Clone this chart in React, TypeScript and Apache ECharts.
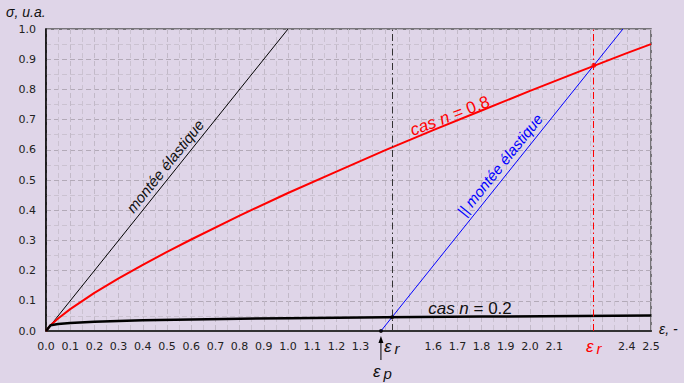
import React, { useEffect, useRef } from 'react';
import * as echarts from 'echarts';

// axis ranges & ticks
const xMin = 0;
const xMax = 2.5;
const xStep = 0.1;
const yMin = 0;
const yMax = 1;
const yStep = 0.1;
const hiddenXTicks = [1.4, 1.5, 2.2, 2.3];

// elastic loading line (black, thin)
const elasticX = [0, 1];
const elasticY = [0, 1];

// hardening curve n = 0.8 (red)
const n08X = [0, 0.02, 0.05, 0.1, 0.2, 0.3, 0.4, 0.5, 0.6, 0.8, 1.0, 1.2, 1.4, 1.6, 1.8, 2.0, 2.2, 2.4, 2.5];
const n08Y = [0, 0.02, 0.0415, 0.0723, 0.126, 0.174, 0.219, 0.262, 0.303, 0.382, 0.457, 0.528, 0.598, 0.665, 0.73, 0.795, 0.858, 0.92, 0.95];

// hardening curve n = 0.2 (black, thick)
const n02X = [0, 0.019, 0.05, 0.1, 0.2, 0.4, 0.6, 0.8, 1.0, 1.4, 1.8, 2.2, 2.5];
const n02Y = [0, 0.019, 0.0233, 0.0268, 0.0308, 0.0354, 0.0384, 0.0406, 0.0425, 0.0455, 0.0478, 0.0498, 0.051];

// parallel elastic line (blue)
const parX = [1.384, 2.384];
const parY = [0, 1];

// key points
const epsP = 1.384;
const epsR02 = 1.43;
const sigR02 = 0.0457;
const epsR08 = 2.264;
const sigR08 = 0.88;

const BG = '#dfd5e8';
const FONT = '"Liberation Sans", Arial, sans-serif';
const TICKFONT = '"DejaVu Sans", sans-serif';
const NB = '\u00a0';

const zip = (xs: number[], ys: number[]) => xs.map((x, i) => [x, ys[i]]);

export default function App() {
  const ref = useRef<HTMLDivElement>(null);

  useEffect(() => {
    if (!ref.current) return;
    const chart = echarts.init(ref.current, undefined, { renderer: 'svg' });

    const option: any = {
      animation: false,
      backgroundColor: BG,
      grid: {
        left: 46,
        top: 29,
        width: 605,
        height: 302,
        show: true,
        borderColor: '#555',
        borderWidth: 1.5,
        backgroundColor: 'transparent',
      },
      xAxis: {
        type: 'value',
        min: xMin,
        max: xMax,
        interval: xStep,
        axisLine: { show: true, onZero: false, lineStyle: { color: '#333', width: 2 } },
        axisTick: { show: false },
        minorTick: { show: false, splitNumber: 2 },
        splitLine: { show: true, lineStyle: { color: '#c2b9c8', type: [5, 3], width: 1 } },
        minorSplitLine: { show: true, lineStyle: { color: '#cbc2d1', type: [5, 3], width: 1 } },
        axisLabel: {
          color: '#222',
          fontSize: 11,
          fontFamily: TICKFONT,
          margin: 10,
          showMinLabel: true,
          showMaxLabel: true,
          formatter: (v: number) =>
            hiddenXTicks.some((h) => Math.abs(h - v) < 1e-6) ? '' : v.toFixed(1),
        },
      },
      yAxis: {
        type: 'value',
        min: yMin,
        max: yMax,
        interval: yStep,
        axisLine: { show: true, onZero: false, lineStyle: { color: '#000', width: 1.5 } },
        axisTick: { show: false },
        minorTick: { show: false, splitNumber: 2 },
        splitLine: { show: true, lineStyle: { color: '#b3aab8', type: [5, 3], width: 1 } },
        minorSplitLine: { show: true, lineStyle: { color: '#cbc2d1', type: [5, 3], width: 1 } },
        axisLabel: {
          color: '#222',
          fontSize: 11,
          fontFamily: TICKFONT,
          margin: 10,
          formatter: (v: number) => v.toFixed(1),
        },
      },
      series: [
        {
          type: 'line',
          data: zip(elasticX, elasticY),
          symbol: 'none',
          lineStyle: { color: '#000', width: 1 },
          z: 3,
        },
        {
          type: 'line',
          data: zip(n08X, n08Y),
          symbol: 'none',
          lineStyle: { color: '#f00', width: 2 },
          z: 4,
          markLine: {
            silent: true,
            symbol: 'none',
            label: { show: false },
            lineStyle: { color: '#f00', width: 1, type: [7, 3, 1.5, 3] },
            data: [{ xAxis: epsR08 }],
          },
        },
        {
          type: 'line',
          data: zip(n02X, n02Y),
          symbol: 'none',
          lineStyle: { color: '#000', width: 2.5 },
          z: 4,
          markLine: {
            silent: true,
            symbol: 'none',
            label: { show: false },
            lineStyle: { color: '#333', width: 1, type: [7, 3, 1.5, 3] },
            data: [{ xAxis: epsR02 }],
          },
        },
        {
          type: 'line',
          data: zip(parX, parY),
          symbol: 'none',
          lineStyle: { color: '#00f', width: 1 },
          z: 3,
        },
        {
          type: 'scatter',
          data: [[epsP, 0], [epsR02, sigR02]],
          symbolSize: 4,
          itemStyle: { color: '#000' },
          z: 6,
        },
        {
          type: 'scatter',
          data: [[epsR08, sigR08]],
          symbolSize: 5,
          itemStyle: { color: '#f00' },
          z: 6,
        },
      ],
    };

    chart.setOption(option);

    const px = (x: number, y: number) =>
      chart.convertToPixel({ gridIndex: 0 }, [x, y]) as number[];

    const slopeElastic = Math.atan2(302, 242); // visual angle of unit slope
    const [exR02] = px(epsR02, 0);
    const [exR08] = px(epsR08, 0);
    const [exP, eyP] = px(epsP, 0);
    const a1 = px(0.492, 0.546);
    const a2 = px(1.669, 0.712);
    const a3 = px(1.876, 0.55);
    const a4 = px(1.752, 0.073);
    const xEnd = px(xMax, 0);

    const italic = (size: number) => `italic ${size}px ${FONT}`;
    const normal = (size: number) => `${size}px ${FONT}`;

    const epsLabel = (x: number, y: number, sub: string, color: string) => ({
      type: 'group',
      children: [
        { type: 'text', x: x - 8, y, style: { text: 'ε', font: italic(17), fill: color, align: 'left', verticalAlign: 'middle' } },
        { type: 'text', x: x + 2.5, y: y + 2, style: { text: sub, font: italic(15), fill: color, align: 'left', verticalAlign: 'middle' } },
      ],
    });

    chart.setOption({
      graphic: [
        { type: 'text', x: 6, y: 12, style: { text: 'σ, u.a.', font: italic(14), fill: '#111', verticalAlign: 'middle' } },
        { type: 'text', x: xEnd[0] + 8, y: xEnd[1] - 2, style: { text: 'ε, -', font: italic(14), fill: '#111', verticalAlign: 'middle' } },
        epsLabel(exR02, 346, 'r', '#111'),
        epsLabel(exR08, 346, 'r', '#f00'),
        epsLabel(exP, 371, 'p', '#111'),
        { type: 'line', shape: { x1: exP, y1: eyP + 8, x2: exP, y2: eyP + 29 }, style: { stroke: '#000', lineWidth: 1 } },
        { type: 'polygon', shape: { points: [[exP, eyP + 5], [exP - 2.5, eyP + 12], [exP + 2.5, eyP + 12]] }, style: { fill: '#000' } },
        {
          type: 'text', x: a1[0], y: a1[1], rotation: slopeElastic,
          style: { text: 'montée élastique', font: italic(15), fill: '#111', align: 'center', verticalAlign: 'middle' },
        },
        {
          type: 'text', x: a2[0], y: a2[1], rotation: (21 * Math.PI) / 180,
          style: {
            text: `{i|cas${NB}n${NB}}{u|=${NB}0.8}`, align: 'center', verticalAlign: 'middle',
            rich: { i: { font: italic(17), fill: '#f00' }, u: { font: normal(17), fill: '#f00' } },
          },
        },
        {
          type: 'text', x: a3[0], y: a3[1], rotation: slopeElastic,
          style: { text: '|| montée élastique', font: italic(15), fill: '#00f', align: 'center', verticalAlign: 'middle' },
        },
        {
          type: 'text', x: a4[0], y: a4[1],
          style: {
            text: `{i|cas${NB}n${NB}}{u|=${NB}0.2}`, align: 'center', verticalAlign: 'middle',
            rich: { i: { font: italic(17), fill: '#111' }, u: { font: normal(17), fill: '#111' } },
          },
        },
      ],
    });

    return () => chart.dispose();
  }, []);

  return (
    <div
      ref={ref}
      style={{ position: 'absolute', left: 0, top: 0, width: 684, height: 383 }}
    />
  );
}
